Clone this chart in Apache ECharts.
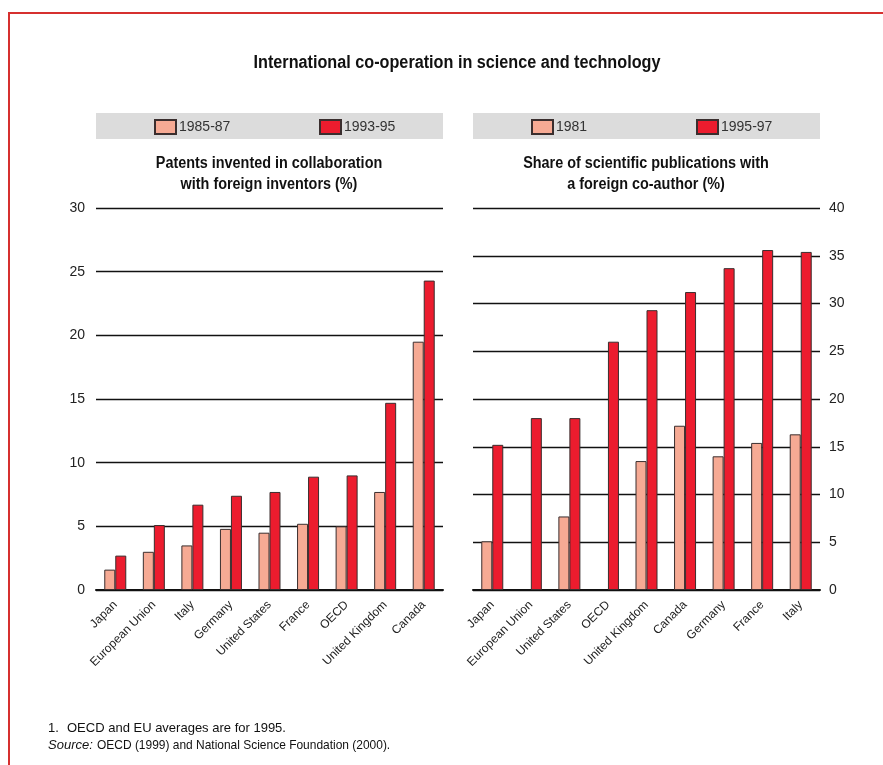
<!DOCTYPE html>
<html>
<head>
<meta charset="utf-8">
<script src="https://cdn.jsdelivr.net/npm/echarts@6/dist/echarts.min.js"></script>
<style>
  html, body { margin: 0; padding: 0; background: #fff; }
  #chart { width: 883px; height: 765px; }
</style>
</head>
<body>
<div id="chart"></div>
<script>
// Patents invented with foreign inventors (%)
const patentCountries = ['Japan', 'European Union', 'Italy', 'Germany', 'United States', 'France', 'OECD', 'United Kingdom', 'Canada'];
const patents8587 = [1.6, 3.0, 3.5, 4.8, 4.5, 5.2, 5.0, 7.7, 19.5];
const patents9395 = [2.7, 5.1, 6.7, 7.4, 7.7, 8.9, 9.0, 14.7, 24.3];

// Scientific publications with a foreign co-author (%)
const pubCountries = ['Japan', 'European Union', 'United States', 'OECD', 'United Kingdom', 'Canada', 'Germany', 'France', 'Italy'];
const pubs1981 = [5.1, null, 7.7, null, 13.5, 17.2, 14.0, 15.4, 16.3];
const pubs9597 = [15.2, 18.0, 18.0, 26.0, 29.3, 31.2, 33.7, 35.6, 35.4];

const patentTicks = { min: 0, max: 30, interval: 5 };
const pubTicks = { min: 0, max: 40, interval: 5 };

const SANS = "'Liberation Sans', Arial, sans-serif";
const LIGHT = '#f6aa94';
const DARK = '#ec1c2e';
const EDGE = '#3a2e2e';

const chart = echarts.init(document.getElementById('chart'), null, { renderer: 'canvas' });

function yAxis(ticks, gridIndex, position, margin) {
  return {
    type: 'value', gridIndex, position,
    min: ticks.min, max: ticks.max, interval: ticks.interval,
    axisLine: { show: false }, axisTick: { show: false },
    axisLabel: { fontFamily: SANS, fontSize: 14, color: '#222', margin },
    splitLine: { lineStyle: { color: '#111', width: 1.4 } }
  };
}
function xAxis(cats, gridIndex) {
  return {
    type: 'category', gridIndex, data: cats,
    axisLine: { lineStyle: { color: '#111', width: 2 } },
    axisTick: { show: false },
    axisLabel: { rotate: 45, fontFamily: SANS, fontSize: 12, color: '#222', margin: 13, interval: 0 }
  };
}
function bar(name, data, idx, color) {
  return {
    type: 'bar', name, data, xAxisIndex: idx, yAxisIndex: idx,
    barWidth: 11, barGap: '0%',
    itemStyle: { color, borderColor: EDGE, borderWidth: 1 },
    emphasis: { disabled: true }
  };
}
function legend(name, left) {
  return {
    data: [name], left, top: 119, itemWidth: 21, itemHeight: 14, padding: 0,
    icon: 'rect', selectedMode: false,
    textStyle: { fontFamily: SANS, fontSize: 14, color: '#333', padding: [0, 0, 0, -2] }
  };
}
// condensed text: drawn around (x, y) and squeezed horizontally
function label(text, x, y, font, sx, align, extra) {
  return {
    type: 'text', x, y, scaleX: sx, silent: true,
    style: Object.assign({ text, x: 0, y: 0, font, fill: '#111', align, verticalAlign: 'middle' }, extra || {})
  };
}

chart.setOption({
  animation: false,
  backgroundColor: '#fff',
  grid: [
    { left: 96, top: 208, width: 347, height: 382 },
    { left: 473, top: 208, width: 347, height: 382 }
  ],
  xAxis: [xAxis(patentCountries, 0), xAxis(pubCountries, 1)],
  yAxis: [yAxis(patentTicks, 0, 'left', 11), yAxis(pubTicks, 1, 'right', 9)],
  legend: [legend('1985-87', 154), legend('1993-95', 319), legend('1981', 531), legend('1995-97', 696)],
  series: [
    bar('1985-87', patents8587, 0, LIGHT),
    bar('1993-95', patents9395, 0, DARK),
    bar('1981', pubs1981, 1, LIGHT),
    bar('1995-97', pubs9597, 1, DARK)
  ],
  graphic: [
    // frame
    { type: 'polyline', silent: true, shape: { points: [[9, 765], [9, 13], [883, 13]] },
      style: { stroke: '#d6302f', lineWidth: 2, fill: null } },
    // legend panels
    { type: 'rect', z: -1, silent: true, shape: { x: 96, y: 113, width: 347, height: 26 }, style: { fill: '#dcdcdc' } },
    { type: 'rect', z: -1, silent: true, shape: { x: 473, y: 113, width: 347, height: 26 }, style: { fill: '#dcdcdc' } },
    // titles
    label('International co-operation in science and technology', 457, 63, 'bold 18px ' + SANS, 0.9, 'center'),
    label('Patents invented in collaboration', 269, 164, 'bold 16px ' + SANS, 0.9, 'center'),
    label('with foreign inventors (%)', 269, 185, 'bold 16px ' + SANS, 0.9, 'center'),
    label('Share of scientific publications with', 646, 164, 'bold 16px ' + SANS, 0.9, 'center'),
    label('a foreign co-author (%)', 646, 185, 'bold 16px ' + SANS, 0.9, 'center'),
    // notes
    label('1.', 48, 728, '13px ' + SANS, 1, 'left'),
    label('OECD and EU averages are for 1995.', 67, 728, '13px ' + SANS, 1, 'left'),
    label('Source:', 48, 745, 'italic 13px ' + SANS, 1, 'left'),
    label('OECD (1999) and National Science Foundation (2000).', 97, 745, '13px ' + SANS, 0.92, 'left')
  ]
});
</script>
</body>
</html>
